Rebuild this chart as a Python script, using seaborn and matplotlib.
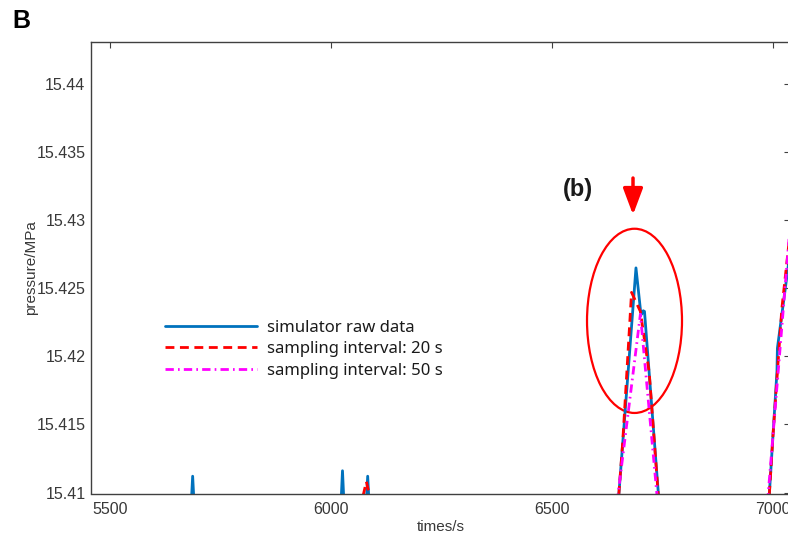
import numpy as np
import pandas as pd
import matplotlib
matplotlib.use("Agg")
import matplotlib.pyplot as plt
from matplotlib.patches import Ellipse
import seaborn as sns

# ---- data -------------------------------------------------------------
# simulator raw data (time in s, pressure in MPa)
raw_t = [5457, 5682, 5687, 5692, 6021, 6026, 6031, 6078, 6083, 6088,
         6640, 6651.6, 6690, 6700.7, 6703, 6706.5, 6709.3, 6740.5, 6750,
         6985, 6992, 7009, 7010, 7034, 7045]
raw_p = [15.408, 15.408, 15.4112, 15.408, 15.408, 15.4116, 15.408, 15.408, 15.4112, 15.408,
         15.405, 15.410, 15.4265, 15.42325, 15.4231, 15.42335, 15.4233, 15.410, 15.405,
         15.405, 15.410, 15.4189, 15.4206, 15.4265, 15.4296]

# resampled every 20 s
s20_t = [5460, 6060, 6080, 6100, 6640, 6660, 6680, 6700, 6720, 6740, 6760,
         6980, 7000, 7020, 7040]
s20_p = [15.405, 15.408, 15.4108, 15.408, 15.405, 15.4137, 15.4247, 15.4233, 15.4188,
         15.4100, 15.405, 15.4037, 15.4142, 15.4235, 15.4295]

# resampled every 50 s
s50_t = [5450, 6600, 6650, 6700, 6750, 6950, 7000, 7050]
s50_p = [15.400, 15.400, 15.4100, 15.4231, 15.4054, 15.3944, 15.4142, 15.4341]

x_ticks = [5500, 6000, 6500, 7000]
x_tick_labels = ["5500", "6000", "6500", "7000"]
y_ticks = [15.41, 15.415, 15.42, 15.425, 15.43, 15.435, 15.44]
y_tick_labels = ["15.41", "15.415", "15.42", "15.425", "15.43", "15.435", "15.44"]

series_names = ["simulator raw data", "sampling interval: 20 s", "sampling interval: 50 s"]

# ---- figure -------------------------------------------------------------
sns.set_theme(style="white")
plt.rcParams["font.family"] = ["Liberation Sans", "DejaVu Sans"]

W, H = 788, 537
fig = plt.figure(figsize=(W / 100, H / 100), dpi=100)
ax_left, ax_right, ax_top, ax_bottom = 91, 790, 42, 493.5
ax = fig.add_axes([ax_left / W, 1 - ax_bottom / H,
                   (ax_right - ax_left) / W, (ax_bottom - ax_top) / H])

lw = 2.0
raw_df = pd.DataFrame({"t": raw_t, "p": raw_p})
s20_df = pd.DataFrame({"t": s20_t, "p": s20_p})
s50_df = pd.DataFrame({"t": s50_t, "p": s50_p})

sns.lineplot(data=raw_df, x="t", y="p", ax=ax, color="#0072BD", lw=lw,
             label=series_names[0], solid_joinstyle="round", solid_capstyle="round")
sns.lineplot(data=s20_df, x="t", y="p", ax=ax, color="#FF0000", lw=lw,
             linestyle=(0, (3.2, 2.0)), label=series_names[1])
sns.lineplot(data=s50_df, x="t", y="p", ax=ax, color="#FF00FF", lw=lw,
             linestyle=(0, (3.0, 1.5, 0.6, 1.5)), label=series_names[2])

ax.set_xlim(5457, 7038.5)
ax.set_ylim(15.40993, 15.44309)

ax.set_xticks(x_ticks)
ax.set_xticklabels(x_tick_labels)
ax.set_yticks(y_ticks)
ax.set_yticklabels(y_tick_labels)

axis_gray = "#404040"
for s in ax.spines.values():
    s.set_color(axis_gray)
    s.set_linewidth(1.0)
ax.tick_params(direction="in", top=True, right=True, length=4, width=0.8,
               color=axis_gray, labelcolor="#383838", labelsize=11.5)
ax.tick_params(axis="x", pad=6)
ax.tick_params(axis="y", pad=4)

ax.set_xlabel("times/s", fontsize=11, color="#383838", labelpad=2)
ax.set_ylabel("pressure/MPa", fontsize=11, color="#383838", labelpad=-1.5)

# highlighted peak
ax.add_patch(Ellipse((6686.7, 15.42261), 214.9, 0.01353, fill=False,
                     edgecolor="#FF0000", lw=1.6))
ax.annotate("", xy=(6683.3, 15.4304), xytext=(6683.3, 15.4331),
            arrowprops=dict(arrowstyle="-|>,head_length=0.8,head_width=0.3",
                            color="#FF0000", lw=2.5, mutation_scale=20,
                            shrinkA=0, shrinkB=0))
ax.text(6559, 15.43224, "(b)", fontsize=17, fontweight="bold",
        ha="center", va="center", color="#1a1a1a")

leg = ax.legend(loc="upper left", bbox_to_anchor=(165 / W, 1 - 319.5 / H),
                bbox_transform=fig.transFigure, frameon=False, borderpad=0,
                borderaxespad=0, handlelength=5.5, handletextpad=0.6,
                labelspacing=0.34, prop={"family": ["Noto Sans", "DejaVu Sans"], "size": 12})
for t in leg.get_texts():
    t.set_color("#1a1a1a")

fig.text(12 / W, 1 - 21 / H, "B", fontsize=18, fontweight="bold",
         va="center", ha="left", color="black")

fig.savefig("out.png", dpi=100)
